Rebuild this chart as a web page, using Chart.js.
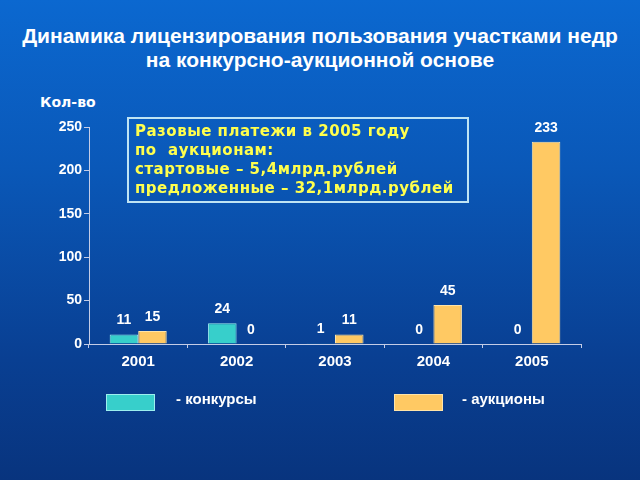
<!DOCTYPE html>
<html>
<head>
<meta charset="utf-8">
<script src="https://cdn.jsdelivr.net/npm/chart.js@4.4.0/dist/chart.umd.min.js"></script>
<style>
  html, body { margin: 0; padding: 0; }
  body {
    width: 640px; height: 480px; overflow: hidden; position: relative;
    background: linear-gradient(to bottom, #0b68d0 0%, #0a58b8 35%, #093f92 75%, #08347e 100%);
    font-family: 'Liberation Sans', Arial, sans-serif;
  }
  #wrap { position: absolute; left: 0; top: 0; width: 640px; height: 480px; }
  .title { position: absolute; left: 0; width: 640px; text-align: center; color: #fff;
    font-weight: bold; font-size: 21px; line-height: 24px; top: 24px; }
  .ylab { position: absolute; left: 40px; top: 94px; color: #fff; font: bold 14px 'DejaVu Sans', sans-serif; }
  .note { position: absolute; left: 127px; top: 117px; width: 332px; height: 82px;
    border: 2px solid #bfe4f4; color: #ffff4d; font: bold 15px 'DejaVu Sans', sans-serif;
    letter-spacing: 0.5px; line-height: 19px; padding: 0 0 0 6px; box-sizing: content-box; white-space: nowrap; }
  .note div:first-child { margin-top: 3px; }
  .sw { position: absolute; top: 394px; width: 47px; height: 15px; }
  .lt { position: absolute; top: 390px; color: #fff; font-weight: bold; font-size: 15px; }
</style>
</head>
<body>
<div class="title">Динамика лицензирования пользования участками недр<br>на конкурсно-аукционной основе</div>
<div class="ylab">Кол-во</div>
<div id="wrap"><canvas id="c" width="640" height="480"></canvas></div>
<div class="note">
  <div>Разовые платежи в 2005 году</div>
  <div>по&nbsp; аукционам:</div>
  <div>стартовые – 5,4млрд.рублей</div>
  <div>предложенные – 32,1млрд.рублей</div>
</div>
<div class="sw" style="left:106px;background:#37cfcb;border:1px solid #9cefee;"></div>
<div class="lt" style="left:176px;">- конкурсы</div>
<div class="sw" style="left:394px;background:#ffc963;border:1px solid #ffe4a8;"></div>
<div class="lt" style="left:462px;">- аукционы</div>
<script>
const years = ['2001', '2002', '2003', '2004', '2005'];
const konkursy = [11, 24, 1, 0, 0];
const auktsiony = [15, 0, 11, 45, 233];
const yTicks = [0, 50, 100, 150, 200, 250];

const valueLabels = {
  id: 'valueLabels',
  afterDatasetsDraw(chart) {
    const ctx = chart.ctx;
    ctx.save();
    ctx.fillStyle = '#fff';
    ctx.font = 'bold 14px "Liberation Sans", Arial, sans-serif';
    ctx.textAlign = 'center';
    ctx.textBaseline = 'bottom';
    chart.data.datasets.forEach((ds, i) => {
      chart.getDatasetMeta(i).data.forEach((bar, j) => {
        ctx.fillText(String(ds.data[j]), bar.x, bar.y - 7);
      });
    });
    ctx.restore();
  }
};

Chart.defaults.font.family = '"Liberation Sans", Arial, sans-serif';
Chart.defaults.font.weight = 'bold';
Chart.defaults.font.size = 14;
Chart.defaults.color = '#fff';

new Chart(document.getElementById('c'), {
  type: 'bar',
  data: {
    labels: years,
    datasets: [{
      label: 'конкурсы',
      data: konkursy,
      backgroundColor: '#37cfcb',
      borderColor: '#9cefee',
      borderWidth: 1
    }, {
      label: 'аукционы',
      data: auktsiony,
      backgroundColor: '#ffc963',
      borderColor: '#ffe4a8',
      borderWidth: 1
    }]
  },
  options: {
    responsive: false,
    animation: false,
    layout: { padding: { left: 29, top: 127, right: 59, bottom: 106 } },
    plugins: { legend: { display: false }, tooltip: { enabled: false } },
    datasets: { bar: { categoryPercentage: 0.58, barPercentage: 1 } },
    scales: {
      x: {
        grid: { drawOnChartArea: false, color: '#c4cce6', tickLength: 4 },
        border: { color: '#c4cce6', width: 1 },
        ticks: { color: '#fff', padding: 5, font: { size: 15 } },
        afterFit: s => { s.height = 30; }
      },
      y: {
        min: 0, max: 250,
        afterBuildTicks: s => { s.ticks = yTicks.map(v => ({ value: v })); },
        grid: { drawOnChartArea: false, color: '#c4cce6', tickLength: 5 },
        border: { color: '#c4cce6', width: 1 },
        ticks: { color: '#fff', padding: 2 },
        afterFit: s => { s.width = 60; }
      }
    }
  },
  plugins: [valueLabels]
});
</script>
</body>
</html>
